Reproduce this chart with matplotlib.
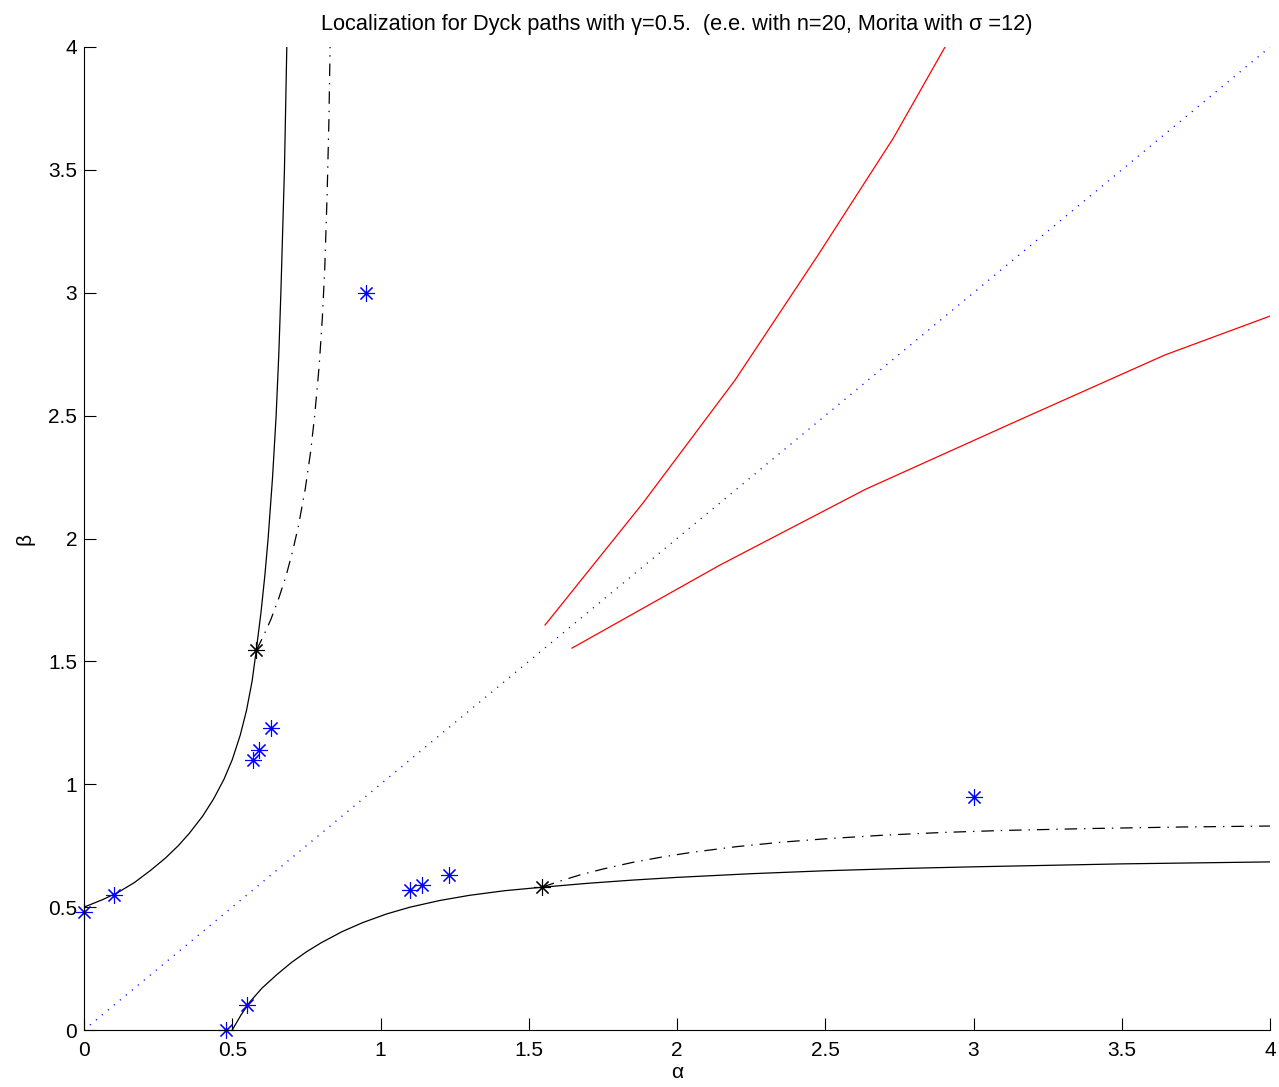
import numpy as np
import matplotlib.pyplot as plt

plt.rcParams['font.family'] = ['Liberation Sans', 'DejaVu Sans']
plt.rcParams['lines.scale_dashes'] = False

# lower solid branch (the upper branch is its mirror image beta <-> alpha)
solid_alpha = [0.50, 0.53, 0.56, 0.60, 0.65, 0.70, 0.75, 0.80, 0.87, 0.94,
               1.02, 1.10, 1.20, 1.30, 1.42, 1.545, 1.70, 1.85, 2.00, 2.25,
               2.50, 2.75, 3.00, 3.25, 3.50, 3.75, 4.00]
solid_beta = [0.000, 0.062, 0.115, 0.170, 0.225, 0.275, 0.318, 0.355, 0.400, 0.437,
              0.472, 0.500, 0.527, 0.548, 0.567, 0.581, 0.597, 0.610, 0.621, 0.636,
              0.648, 0.657, 0.664, 0.670, 0.676, 0.680, 0.684]

# lower dash-dot branch
dd_alpha = [1.545, 1.60, 1.67, 1.75, 1.85, 1.95, 2.05, 2.20, 2.35, 2.50,
            2.70, 2.90, 3.10, 3.40, 3.70, 4.00]
dd_beta = [0.581, 0.604, 0.630, 0.655, 0.682, 0.704, 0.723, 0.746, 0.764, 0.778,
           0.793, 0.804, 0.812, 0.820, 0.826, 0.830]

# red curves
red_up_alpha = [1.555, 1.885, 2.196, 2.476, 2.73, 2.904]
red_up_beta = [1.648, 2.144, 2.645, 3.154, 3.63, 4.0]
red_lo_alpha = [1.646, 2.145, 2.637, 3.15, 3.646, 4.0]
red_lo_beta = [1.554, 1.892, 2.201, 2.48, 2.747, 2.905]

# blue asterisks
pts_alpha = [0.0, 0.1, 0.48, 0.55, 0.57, 0.59, 0.63, 0.95, 1.10, 1.14, 1.23, 3.0]
pts_beta = [0.48, 0.55, 0.0, 0.1, 1.10, 1.14, 1.23, 3.0, 0.57, 0.59, 0.63, 0.95]

# black asterisks (where solid and dash-dot meet)
meet_alpha = [0.58, 1.545]
meet_beta = [1.546, 0.581]

ticks = [0, 0.5, 1, 1.5, 2, 2.5, 3, 3.5, 4]
tick_labels = ['0', '0.5', '1', '1.5', '2', '2.5', '3', '3.5', '4']

fig = plt.figure(figsize=(12.79, 10.87), dpi=100)
ax = fig.add_axes([84 / 1279, 1 - 1030 / 1087, 1186 / 1279, 983 / 1087])

dashdot = (0, (9, 5, 1, 5))
ax.plot([0, 4], [0, 4], color='b', lw=1.0, linestyle=(0, (0.8, 4.8)))
ax.plot(solid_alpha, solid_beta, color='k', lw=0.9)
ax.plot(solid_beta, solid_alpha, color='k', lw=0.9)
ax.plot(dd_alpha, dd_beta, color='k', lw=0.9, linestyle=dashdot)
ax.plot(dd_beta, dd_alpha, color='k', lw=0.9, linestyle=dashdot)
ax.plot(red_up_alpha, red_up_beta, color='r', lw=0.9)
ax.plot(red_lo_alpha, red_lo_beta, color='r', lw=0.9)
ax.plot(pts_alpha, pts_beta, linestyle='none', marker=(8, 2, 0), ms=12,
        mec='b', mew=0.8, clip_on=False)
ax.plot(meet_alpha, meet_beta, linestyle='none', marker=(8, 2, 0), ms=12,
        mec='k', mew=0.8)

ax.set_xlim(0, 4)
ax.set_ylim(0, 4)
ax.set_xticks(ticks)
ax.set_xticklabels(tick_labels)
ax.set_yticks(ticks)
ax.set_yticklabels(tick_labels)
ax.tick_params(direction='in', length=8.5, width=0.8, labelsize=15)
ax.tick_params(axis='x', pad=8)
ax.tick_params(axis='y', pad=5)
for side in ['top', 'right']:
    ax.spines[side].set_visible(False)
for side in ['left', 'bottom']:
    ax.spines[side].set_linewidth(0.8)

ax.set_title('Localization for Dyck paths with γ=0.5.  (e.e. with n=20, Morita with σ =12)',
             fontsize=15.7, pad=12)
ax.set_xlabel('α', fontsize=15, labelpad=2)
ax.set_ylabel('β', fontsize=15, labelpad=10)

plt.savefig('out.png')
